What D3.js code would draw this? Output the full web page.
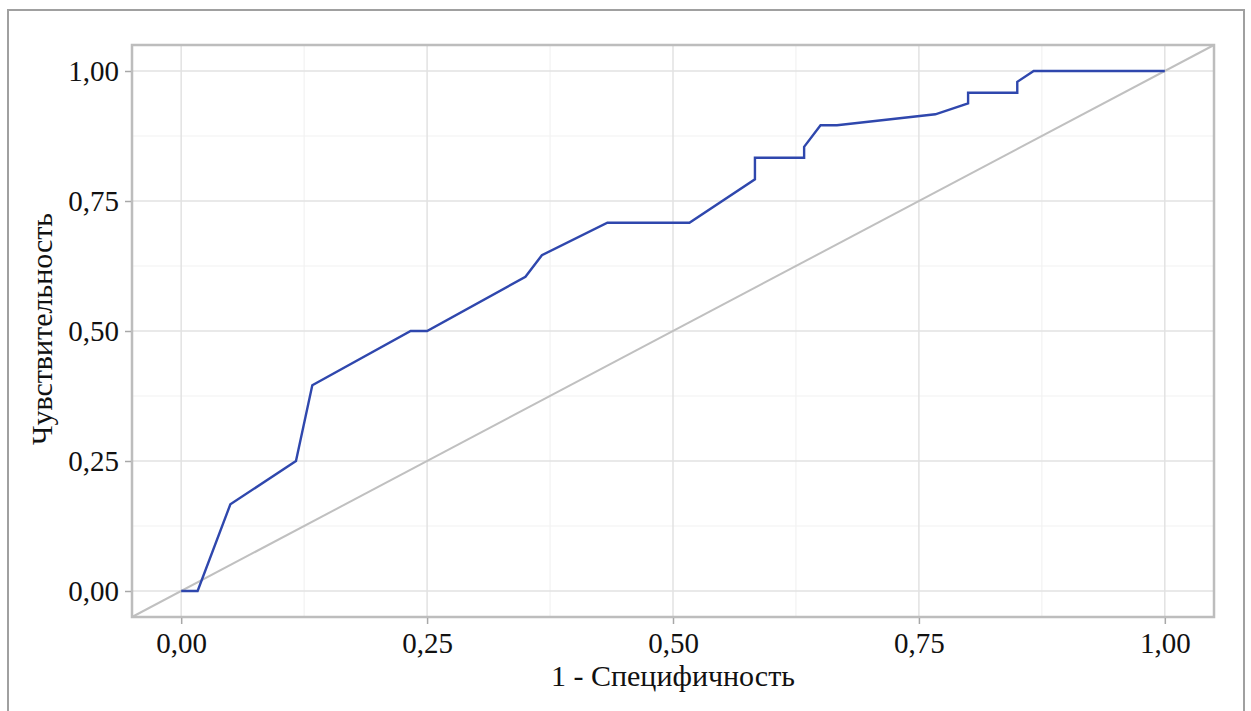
<!DOCTYPE html>
<html>
<head>
<meta charset="utf-8">
<script src="https://cdn.jsdelivr.net/npm/d3@7"></script>
<style>
  html, body { margin: 0; padding: 0; background: #fff; }
  svg { display: block; }
  text { font-family: "Liberation Serif", "Times New Roman", serif; fill: #111; }
</style>
</head>
<body>
<svg id="chart" width="1251" height="711"></svg>
<script>
// ROC curve: false positive rate (1 - specificity) vs. sensitivity
const fpr = [0, 0.0167, 0.05, 0.1167, 0.1333, 0.2333, 0.25, 0.35, 0.3667, 0.4333, 0.5167,
             0.5833, 0.5833, 0.6333, 0.6333, 0.65, 0.6667, 0.7667, 0.8, 0.8, 0.85, 0.85, 0.8667, 1];
const tpr = [0, 0, 0.1667, 0.25, 0.3958, 0.5, 0.5, 0.6042, 0.6458, 0.7083, 0.7083,
             0.7917, 0.8333, 0.8333, 0.8542, 0.8958, 0.8958, 0.9167, 0.9375, 0.9583, 0.9583, 0.9792, 1, 1];

const majorTicks = [0, 0.25, 0.5, 0.75, 1];
const minorTicks = [0.125, 0.375, 0.625, 0.875];
const tickLabels = ["0,00", "0,25", "0,50", "0,75", "1,00"];
const xTitle = "1 - Специфичность";
const yTitle = "Чувствительность";

const svg = d3.select("#chart");
const plotL = 132, plotR = 1214, plotT = 45, plotB = 617;

const x = d3.scaleLinear().domain([-0.05, 1.05]).range([plotL, plotR]);
const y = d3.scaleLinear().domain([-0.05, 1.05]).range([plotB, plotT]);

// outer frame
svg.append("rect")
  .attr("x", 8).attr("y", 10).attr("width", 1236).attr("height", 710)
  .attr("fill", "none").attr("stroke", "#a0a0a0").attr("stroke-width", 2);

// grid
const grid = svg.append("g");
grid.selectAll(".vminor").data(minorTicks).join("line")
  .attr("x1", d => x(d)).attr("x2", d => x(d)).attr("y1", plotT).attr("y2", plotB)
  .attr("stroke", "#f2f2f2").attr("stroke-width", 1.2);
grid.selectAll(".hminor").data(minorTicks).join("line")
  .attr("y1", d => y(d)).attr("y2", d => y(d)).attr("x1", plotL).attr("x2", plotR)
  .attr("stroke", "#f2f2f2").attr("stroke-width", 1.2);
grid.selectAll(".vmajor").data(majorTicks).join("line")
  .attr("x1", d => x(d)).attr("x2", d => x(d)).attr("y1", plotT).attr("y2", plotB)
  .attr("stroke", "#e2e2e2").attr("stroke-width", 1.5);
grid.selectAll(".hmajor").data(majorTicks).join("line")
  .attr("y1", d => y(d)).attr("y2", d => y(d)).attr("x1", plotL).attr("x2", plotR)
  .attr("stroke", "#e2e2e2").attr("stroke-width", 1.5);

// reference diagonal across the whole plot
svg.append("line")
  .attr("x1", x(-0.05)).attr("y1", y(-0.05)).attr("x2", x(1.05)).attr("y2", y(1.05))
  .attr("stroke", "#c0c0c0").attr("stroke-width", 2);

// ROC line
const pts = fpr.map((v, i) => [v, tpr[i]]);
svg.append("path")
  .datum(pts)
  .attr("d", d3.line().x(d => x(d[0])).y(d => y(d[1])))
  .attr("fill", "none").attr("stroke", "#2f47ad").attr("stroke-width", 2.4)
  .attr("stroke-linejoin", "miter");

// plot frame
svg.append("rect")
  .attr("x", plotL).attr("y", plotT).attr("width", plotR - plotL).attr("height", plotB - plotT)
  .attr("fill", "none").attr("stroke", "#bdbdbd").attr("stroke-width", 2.5);

// axes
const fmt = d => tickLabels[majorTicks.indexOf(d)];
const xAxis = svg.append("g").attr("transform", `translate(0,${plotB + 1})`)
  .call(d3.axisBottom(x).tickValues(majorTicks).tickFormat(fmt).tickSize(6).tickPadding(8));
const yAxis = svg.append("g").attr("transform", `translate(${plotL - 1},0)`)
  .call(d3.axisLeft(y).tickValues(majorTicks).tickFormat(fmt).tickSize(6).tickPadding(6));
[xAxis, yAxis].forEach(g => {
  g.select(".domain").remove();
  g.selectAll(".tick line").attr("stroke", "#a8a8a8").attr("stroke-width", 1.5);
  g.selectAll(".tick text").attr("font-family", "Liberation Serif, serif")
    .attr("font-size", 29).attr("fill", "#111");
});

// axis titles
svg.append("text")
  .attr("x", (plotL + plotR) / 2).attr("y", 686)
  .attr("text-anchor", "middle").attr("font-size", 30)
  .text(xTitle);
svg.append("text")
  .attr("transform", `translate(52,${(plotT + plotB) / 2 - 2}) rotate(-90)`)
  .attr("text-anchor", "middle").attr("font-size", 30)
  .text(yTitle);
</script>
</body>
</html>
